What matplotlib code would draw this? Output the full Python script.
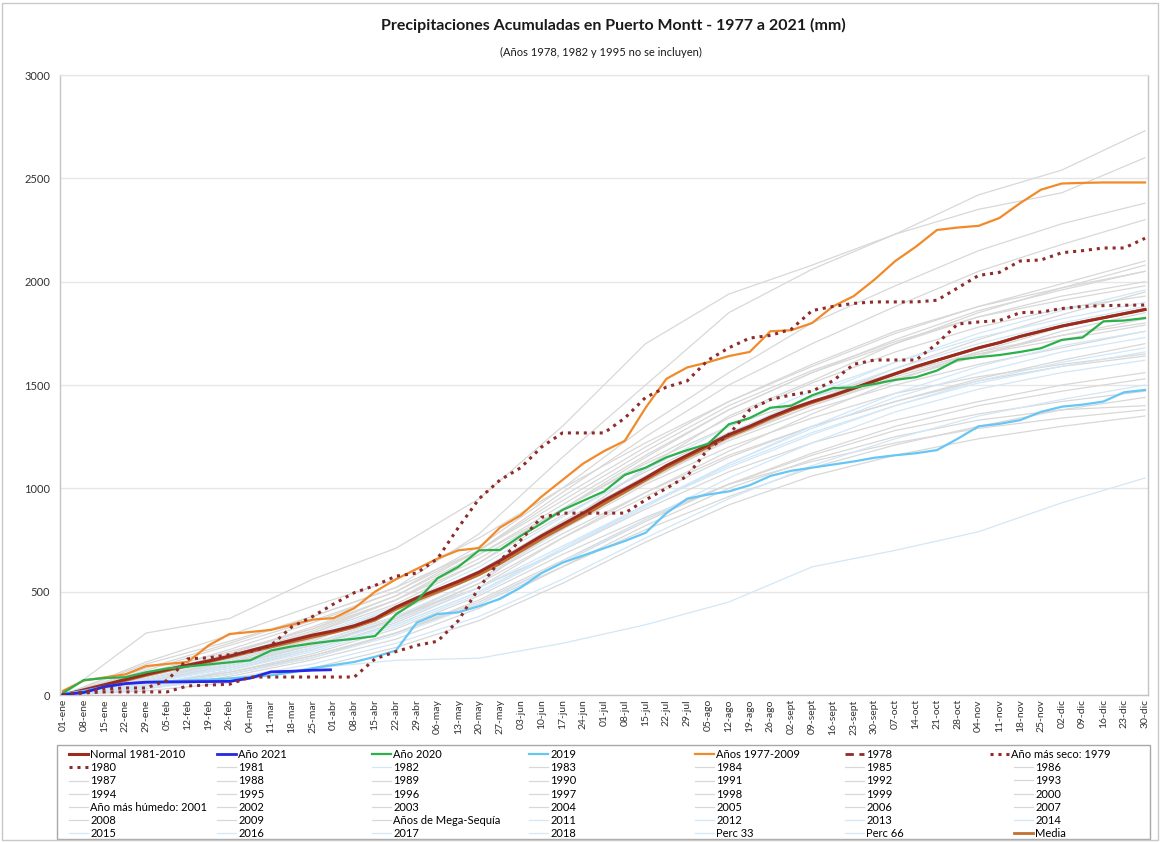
import numpy as np
import pandas as pd
import matplotlib
matplotlib.use("Agg")
import matplotlib.pyplot as plt
from matplotlib.lines import Line2D
from matplotlib.patches import Rectangle

plt.rcParams['font.family'] = ['Lato', 'DejaVu Sans']

# --- data ---
meses = ['ene', 'feb', 'mar', 'abr', 'may', 'jun', 'jul', 'ago', 'sept', 'oct', 'nov', 'dic']
tick_dates = pd.date_range('2020-01-01', '2020-12-30', freq='7D')
tick_labels = [f"{d.day:02d}-{meses[d.month - 1]}" for d in tick_dates]

week_days = [i * 7 for i in range(53)]          # 01-ene ... 30-dic
month_days = [i * 28 for i in range(14)]        # coarse points for background years
days_2021 = [0, 7, 14, 21, 28, 35, 42, 49, 56, 63, 70, 77, 84, 90]

normal_8110 = [0, 25, 50, 75, 100, 123, 145, 165, 188, 215, 240, 265, 290, 310, 335, 370,
               425, 470, 510, 550, 595, 650, 710, 770, 825, 880, 940, 995, 1050, 1110,
               1160, 1210, 1260, 1300, 1345, 1385, 1420, 1450, 1485, 1520, 1555, 1590,
               1620, 1650, 1680, 1705, 1735, 1760, 1785, 1805, 1825, 1845, 1865]
media = [0, 22, 45, 70, 95, 118, 140, 160, 183, 208, 232, 256, 280, 302, 328, 362,
         415, 458, 498, 538, 582, 635, 695, 755, 810, 865, 925, 982, 1040, 1098,
         1150, 1200, 1250, 1292, 1338, 1378, 1414, 1447, 1482, 1518, 1553, 1588,
         1619, 1649, 1679, 1705, 1735, 1760, 1785, 1806, 1826, 1846, 1866]
anio_2021 = [2, 12, 40, 55, 62, 63, 64, 65, 66, 82, 112, 115, 120, 122]
anio_2020 = [10, 72, 82, 86, 110, 128, 138, 148, 158, 168, 215, 235, 250, 262, 272, 285,
             390, 455, 565, 620, 700, 702, 770, 830, 895, 940, 985, 1065, 1100, 1150,
             1185, 1215, 1310, 1340, 1390, 1400, 1450, 1485, 1488, 1505, 1525, 1538,
             1570, 1622, 1635, 1645, 1660, 1678, 1718, 1730, 1808, 1812, 1824]
anio_2019 = [5, 20, 40, 55, 62, 66, 70, 74, 80, 87, 95, 110, 130, 145, 160, 185,
             215, 350, 392, 400, 430, 465, 520, 590, 640, 675, 710, 745, 785, 880,
             950, 970, 985, 1015, 1060, 1085, 1100, 1115, 1130, 1148, 1160, 1170,
             1185, 1240, 1300, 1312, 1330, 1370, 1395, 1405, 1420, 1465, 1476]
anios_7709 = [20, 70, 85, 100, 140, 150, 160, 240, 295, 305, 315, 340, 365, 372, 420, 500,
              560, 610, 660, 700, 711, 810, 870, 960, 1040, 1120, 1180, 1230, 1390, 1530,
              1585, 1610, 1640, 1660, 1760, 1765, 1800, 1880, 1930, 2010, 2100, 2170,
              2250, 2262, 2270, 2308, 2380, 2445, 2475, 2478, 2480, 2480, 2480]
anio_1979 = [0, 10, 15, 15, 15, 15, 44, 48, 52, 87, 87, 87, 87, 87, 87, 175,
             210, 240, 260, 360, 520, 650, 750, 860, 880, 880, 880, 880, 944, 1000,
             1060, 1190, 1260, 1380, 1430, 1452, 1470, 1520, 1600, 1621, 1621, 1621,
             1700, 1795, 1805, 1812, 1850, 1853, 1870, 1880, 1884, 1886, 1887]
anio_1980 = [0, 15, 30, 34, 34, 70, 175, 180, 195, 210, 240, 330, 380, 440, 495, 530,
             575, 590, 660, 810, 950, 1040, 1100, 1200, 1268, 1268, 1268, 1340, 1440, 1490,
             1520, 1620, 1680, 1727, 1740, 1770, 1860, 1880, 1895, 1902, 1902, 1902,
             1910, 1970, 2030, 2045, 2100, 2105, 2140, 2150, 2163, 2163, 2210]

faint_labels = ['1981', '1982', '1983', '1984', '1985', '1986', '1987', '1988', '1989', '1990',
                '1991', '1992', '1993', '1994', '1995', '1996', '1997', '1998', '1999', '2000',
                'Año más húmedo: 2001', '2002', '2003', '2004', '2005', '2006', '2007', '2008',
                '2009', 'Años de Mega-Sequía', '2011', '2012', '2013', '2014', '2015', '2016',
                '2017', '2018', 'Perc 33', 'Perc 66']
faint_blue = ['1982', '2011', '2012', '2013', '2014', '2015', '2016', '2017', '2018',
              'Perc 33', 'Perc 66']
faint_values = [
    [0, 60, 150, 260, 420, 600, 840, 1060, 1250, 1400, 1530, 1640, 1760, 1850],
    [],
    [0, 110, 190, 300, 440, 640, 900, 1150, 1380, 1560, 1700, 1830, 1930, 2000],
    [0, 40, 120, 220, 350, 520, 760, 960, 1150, 1300, 1420, 1530, 1620, 1700],
    [0, 80, 160, 240, 360, 540, 820, 1100, 1350, 1520, 1700, 1850, 1970, 2050],
    [0, 160, 290, 430, 560, 760, 1000, 1220, 1420, 1590, 1750, 1880, 1990, 2100],
    [0, 70, 140, 250, 380, 520, 700, 900, 1080, 1220, 1330, 1420, 1500, 1560],
    [0, 50, 100, 180, 300, 460, 650, 850, 1020, 1160, 1280, 1360, 1420, 1470],
    [0, 130, 250, 380, 520, 700, 960, 1200, 1420, 1600, 1760, 1880, 1970, 2080],
    [0, 90, 180, 300, 460, 680, 900, 1120, 1300, 1440, 1560, 1650, 1720, 1790],
    [0, 150, 260, 380, 520, 780, 1150, 1500, 1850, 2060, 2230, 2350, 2430, 2600],
    [0, 60, 130, 230, 370, 560, 800, 1020, 1200, 1340, 1460, 1540, 1600, 1650],
    [0, 100, 200, 320, 480, 700, 980, 1250, 1500, 1700, 1880, 2050, 2180, 2300],
    [0, 30, 90, 170, 270, 420, 620, 820, 1000, 1140, 1250, 1330, 1380, 1400],
    [],
    [0, 20, 60, 130, 230, 360, 540, 740, 920, 1060, 1160, 1240, 1300, 1350],
    [0, 120, 240, 360, 500, 720, 1000, 1300, 1560, 1800, 1980, 2150, 2280, 2380],
    [0, 50, 110, 200, 320, 480, 680, 860, 1020, 1130, 1220, 1290, 1340, 1380],
    [0, 80, 170, 280, 420, 600, 830, 1040, 1230, 1380, 1500, 1600, 1680, 1760],
    [0, 100, 220, 350, 500, 700, 940, 1180, 1400, 1570, 1710, 1830, 1910, 1980],
    [0, 300, 370, 560, 710, 950, 1300, 1700, 1940, 2080, 2230, 2420, 2540, 2730],
    [0, 90, 200, 330, 480, 680, 920, 1160, 1380, 1560, 1720, 1860, 1960, 2050],
    [0, 70, 150, 250, 380, 560, 780, 980, 1160, 1300, 1420, 1520, 1590, 1640],
    [0, 110, 210, 320, 460, 640, 870, 1080, 1270, 1420, 1550, 1660, 1740, 1820],
    [0, 60, 140, 240, 370, 540, 760, 980, 1180, 1360, 1520, 1660, 1780, 1870],
    [0, 80, 170, 270, 400, 580, 810, 1030, 1240, 1420, 1580, 1720, 1840, 1950],
    [0, 40, 100, 190, 300, 450, 640, 840, 1020, 1170, 1300, 1400, 1470, 1530],
    [0, 90, 190, 310, 460, 660, 900, 1130, 1340, 1510, 1660, 1780, 1870, 1930],
    [0, 70, 160, 270, 410, 590, 820, 1040, 1240, 1400, 1540, 1650, 1740, 1800],
    [0, 50, 110, 190, 300, 440, 620, 800, 960, 1100, 1210, 1300, 1380, 1440],
    [0, 60, 140, 230, 360, 520, 720, 920, 1100, 1260, 1400, 1520, 1610, 1680],
    [0, 40, 100, 180, 290, 440, 640, 850, 1050, 1220, 1370, 1480, 1560, 1620],
    [0, 80, 170, 280, 420, 600, 830, 1060, 1270, 1440, 1580, 1700, 1800, 1880],
    [0, 60, 130, 220, 340, 500, 700, 910, 1120, 1300, 1460, 1590, 1690, 1760],
    [0, 30, 80, 150, 250, 380, 560, 760, 950, 1110, 1240, 1350, 1430, 1500],
    [0, 40, 80, 130, 168, 178, 250, 340, 450, 620, 700, 790, 930, 1050],
    [0, 70, 150, 250, 380, 560, 800, 1040, 1260, 1450, 1610, 1750, 1860, 1960],
    [0, 50, 120, 210, 330, 490, 700, 920, 1120, 1290, 1440, 1560, 1660, 1730],
    [0, 60, 130, 220, 340, 500, 710, 920, 1110, 1270, 1400, 1510, 1590, 1660],
    [0, 90, 180, 290, 430, 620, 860, 1090, 1300, 1470, 1610, 1730, 1820, 1900],
]

# --- styles ---
c_normal, c_media = '#9c2b1f', '#c2702f'
c_2021, c_2020, c_2019, c_7709 = '#2626e6', '#2bb04c', '#66c6f4', '#f08a2a'
c_dot = '#8e2b2b'
c_grey, c_lblue = '#d8d8d8', '#d2e7f7'

W, H = 1161, 842
fig = plt.figure(figsize=(W / 100, H / 100), dpi=100)
ax = fig.add_axes([60 / W, 1 - 695 / H, 1088 / W, 620 / H])

handles = {}
for lab, vals in zip(faint_labels, faint_values):
    col = c_lblue if lab in faint_blue else c_grey
    ln, = ax.plot(month_days[:len(vals)], vals, color=col, lw=0.9, zorder=2)
    handles[lab] = ln

handles['Media'], = ax.plot(week_days, media, color=c_media, lw=2.0, zorder=4)
handles['Normal 1981-2010'], = ax.plot(week_days, normal_8110, color=c_normal, lw=2.2, zorder=5)
handles['Años 1977-2009'], = ax.plot(week_days, anios_7709, color=c_7709, lw=1.6, zorder=6)
handles['2019'], = ax.plot(week_days, anio_2019, color=c_2019, lw=1.6, zorder=6)
handles['Año 2020'], = ax.plot(week_days, anio_2020, color=c_2020, lw=1.6, zorder=6)
handles['Año 2021'], = ax.plot(days_2021, anio_2021, color=c_2021, lw=2.0, zorder=7)
handles['Año más seco: 1979'], = ax.plot(week_days, anio_1979, color=c_dot, lw=2.2,
                                         ls=(0, (1, 1.6)), zorder=7)
handles['1980'], = ax.plot(week_days, anio_1980, color=c_dot, lw=2.2, ls=(0, (1, 1.6)), zorder=7)
handles['1978'] = Line2D([], [], color=c_dot, lw=2.0, ls=(0, (3, 2)))

ax.set_xlim(-1, 365)
ax.set_ylim(0, 3000)
ax.set_yticks(range(0, 3001, 500))
ax.set_xticks(week_days)
ax.set_xticklabels(tick_labels, rotation=90, fontsize=7.5, color='#333333')
ax.tick_params(axis='y', labelsize=8, colors='#333333', length=0, pad=7)
ax.tick_params(axis='x', length=0, pad=3)
ax.grid(axis='y', color='#e6e6e6', lw=1.0)
ax.set_axisbelow(True)
for s in ax.spines.values():
    s.set_color('#c4c4c4')
    s.set_linewidth(1.0)
ax.spines['top'].set_color('#e6e6e6')

fig.text(613 / W, 1 - 25 / H, 'Precipitaciones Acumuladas en Puerto Montt - 1977 a 2021 (mm)',
         ha='center', va='center', fontsize=11.5, fontweight='bold', color='#1a1a1a')
fig.text(601 / W, 1 - 52 / H, '(Años 1978, 1982 y 1995 no se incluyen)',
         ha='center', va='center', fontsize=8, color='#1a1a1a')

# legend: 7 rows x 7 columns, row-major order like the original
legend_order = ['Normal 1981-2010', 'Año 2021', 'Año 2020', '2019', 'Años 1977-2009', '1978',
                'Año más seco: 1979', '1980'] + faint_labels + ['Media']
row_h = 13.1
# (column, first row, last row, text x in px)
leg_blocks = [(0, 0, 7, 90), (1, 0, 7, 238), (2, 0, 7, 393), (3, 0, 7, 550),
              (4, 0, 7, 716), (5, 0, 7, 866), (6, 0, 1, 1011), (6, 1, 7, 1035)]
for c, r0, r1, tx in leg_blocks:
    labs = [legend_order[r * 7 + c] for r in range(r0, r1)]
    fig.legend([handles[l] for l in labs], labs, loc='upper left',
               bbox_to_anchor=((tx - 21) / W, 1 - (749 + r0 * row_h) / H),
               frameon=False, fontsize=8, handlelength=1.7, handletextpad=0.2,
               labelspacing=0.2, borderpad=0, borderaxespad=0)

fig.patches.append(Rectangle((57 / W, 1 - 839 / H), 1093 / W, 94 / H, transform=fig.transFigure,
                             fill=False, edgecolor='#a8a8a8', lw=1.0))
fig.patches.append(Rectangle((2 / W, 2 / H), (W - 5) / W, (H - 5) / H, transform=fig.transFigure,
                             fill=False, edgecolor='#c8c8c8', lw=1.0))

fig.savefig('out.png', dpi=100)
